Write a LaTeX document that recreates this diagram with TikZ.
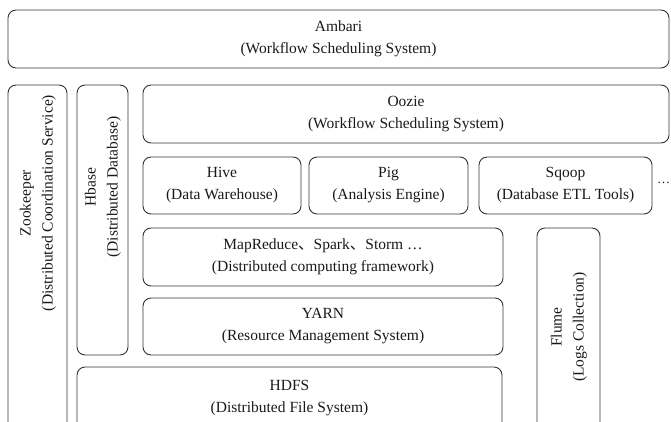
\documentclass[tikz,border=0pt]{standalone}
\usepackage{fontspec}
\setmainfont{Liberation Serif}
\newfontfamily\cjk{Noto Sans CJK SC}
\begin{document}
\begin{tikzpicture}[x=1pt,y=-1pt,
  box/.style={draw=black!80, line width=0.9pt, rounded corners=8pt},
  txt/.style={font=\fontsize{15.5}{22}\selectfont, align=center, text=black!90}]
\useasboundingbox (0,0) rectangle (671,421);
\clip (0,0) rectangle (671,421);
% boxes
\draw[box] (8,10) rectangle (669,68);
\node[txt] (ambari) at (338.5,39) {Ambari\\(Workflow Scheduling System)};
\draw[box] (8,85) rectangle (67,450);
\node[txt, rotate=90] (zoo) at (38,203) {Zookeeper\\(Distributed Coordination Service)};
\draw[box] (77,85) rectangle (128,355);
\node[txt, rotate=90] (hbase) at (103,187) {Hbase\\(Distributed Database)};
\draw[box] (143,85) rectangle (669,143);
\node[txt] (oozie) at (406,114) {Oozie\\(Workflow Scheduling System)};
\draw[box] (143,157) rectangle (301,214);
\node[txt] (hive) at (222,185.5) {Hive\\(Data Warehouse)};
\draw[box] (309,157) rectangle (468,214);
\node[txt] (pig) at (388.5,185.5) {Pig\\(Analysis Engine)};
\draw[box] (479,157) rectangle (652,214);
\node[txt] (sqoop) at (565.5,185.5) {Sqoop\\(Database ETL Tools)};
\node[txt, anchor=west, inner sep=0pt, font=\fontsize{13}{16}\selectfont] (more) at (657,183) {\dots};
\draw[box] (143,228) rectangle (503,286);
\node[txt] (mr) at (323,257) {MapReduce{\cjk 、}Spark{\cjk 、}Storm \dots\\(Distributed computing framework)};
\draw[box] (143,298) rectangle (503,355);
\node[txt] (yarn) at (323,326.5) {YARN\\(Resource Management System)};
\draw[box] (77,367) rectangle (502,450);
\node[txt] (hdfs) at (289.5,398) {HDFS\\(Distributed File System)};
\draw[box] (537,228) rectangle (600,450);
\node[txt, rotate=90] (flume) at (569,327) {Flume\\(Logs Collection)};
\end{tikzpicture}
\end{document}
